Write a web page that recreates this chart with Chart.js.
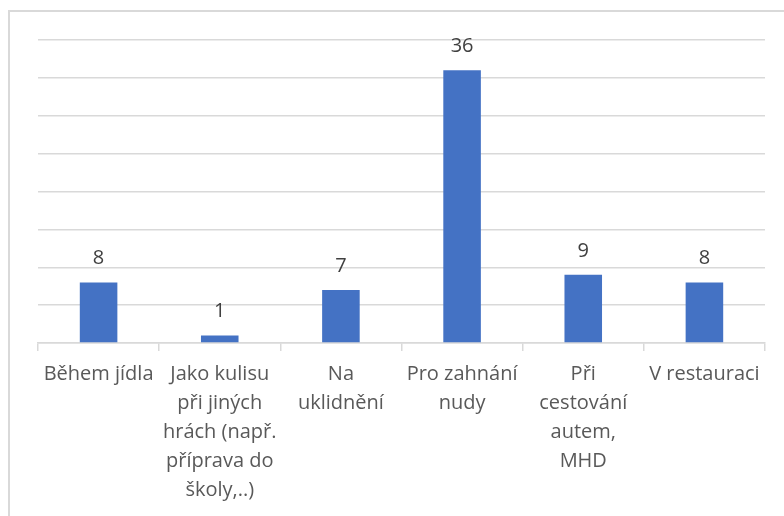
<!DOCTYPE html>
<html lang="cs">
<head>
<meta charset="utf-8">
<title>Kdy děti hrají</title>
<script src="https://cdn.jsdelivr.net/npm/chart.js@4/dist/chart.umd.min.js"></script>
<style>
  html, body { margin: 0; padding: 0; background: #fff; overflow: hidden; }
  #wrap { position: relative; width: 784px; height: 516px; }
  #frame {
    position: absolute; left: 8px; top: 10px; width: 800px; height: 540px;
    border-left: 2px solid #d9d9d9; border-top: 2px solid #d9d9d9;
    box-sizing: border-box;
  }
  canvas { position: absolute; left: 0; top: 0; }
</style>
</head>
<body>
<div id="wrap">
  <div id="frame"></div>
  <canvas id="myChart" width="784" height="516"></canvas>
</div>
<script>
var categories = [
    ['Během jídla'],
    ['Jako kulisu', 'při jiných', 'hrách (např.', 'příprava do', 'školy,..)'],
    ['Na', 'uklidnění'],
    ['Pro zahnání', 'nudy'],
    ['Při', 'cestování', 'autem,', 'MHD'],
    ['V restauraci']
];
var counts = [8, 1, 7, 36, 9, 8];
var axisMax = 40;
var axisStep = 5;

var fontFamily = '"Open Sans", "Noto Sans", sans-serif';

// writes the value above each bar
var valueLabels = {
    id: 'valueLabels',
    afterDatasetsDraw: function(chart) {
        var ctx = chart.ctx;
        var meta = chart.getDatasetMeta(0);
        ctx.save();
        ctx.font = '20px ' + fontFamily;
        ctx.fillStyle = '#404040';
        ctx.textAlign = 'center';
        ctx.textBaseline = 'middle';
        meta.data.forEach(function(bar, i) {
            ctx.fillText(String(counts[i]), bar.x, bar.y - 24);
        });
        ctx.restore();
    }
};

var ctx = document.getElementById('myChart').getContext('2d');
var myChart = new Chart(ctx, {
    type: 'bar',
    data: {
        labels: categories,
        datasets: [{
            label: 'Počet',
            data: counts,
            backgroundColor: '#4472c4',
            borderWidth: 0,
            barPercentage: 0.62,
            categoryPercentage: 0.5
        }]
    },
    options: {
        responsive: false,
        animation: false,
        layout: { padding: { left: 38, right: 19, top: 40, bottom: 0 } },
        plugins: {
            legend: { display: false },
            tooltip: { enabled: false }
        },
        scales: {
            x: {
                grid: {
                    offset: true,
                    drawOnChartArea: false,
                    drawTicks: true,
                    tickLength: 8,
                    color: '#d9d9d9',
                    lineWidth: 1.5
                },
                border: { display: true, color: '#d9d9d9', width: 1.5 },
                ticks: {
                    autoSkip: false,
                    maxRotation: 0,
                    minRotation: 0,
                    padding: 9,
                    color: '#595959',
                    font: { family: fontFamily, size: 20, lineHeight: 1.45 }
                },
                afterFit: function(scale) { scale.height = 173; }
            },
            y: {
                min: 0,
                max: axisMax,
                ticks: { display: false, stepSize: axisStep },
                grid: { color: '#d9d9d9', lineWidth: 1.5, drawTicks: false },
                border: { display: false }
            }
        }
    },
    plugins: [valueLabels]
});
</script>
</body>
</html>
